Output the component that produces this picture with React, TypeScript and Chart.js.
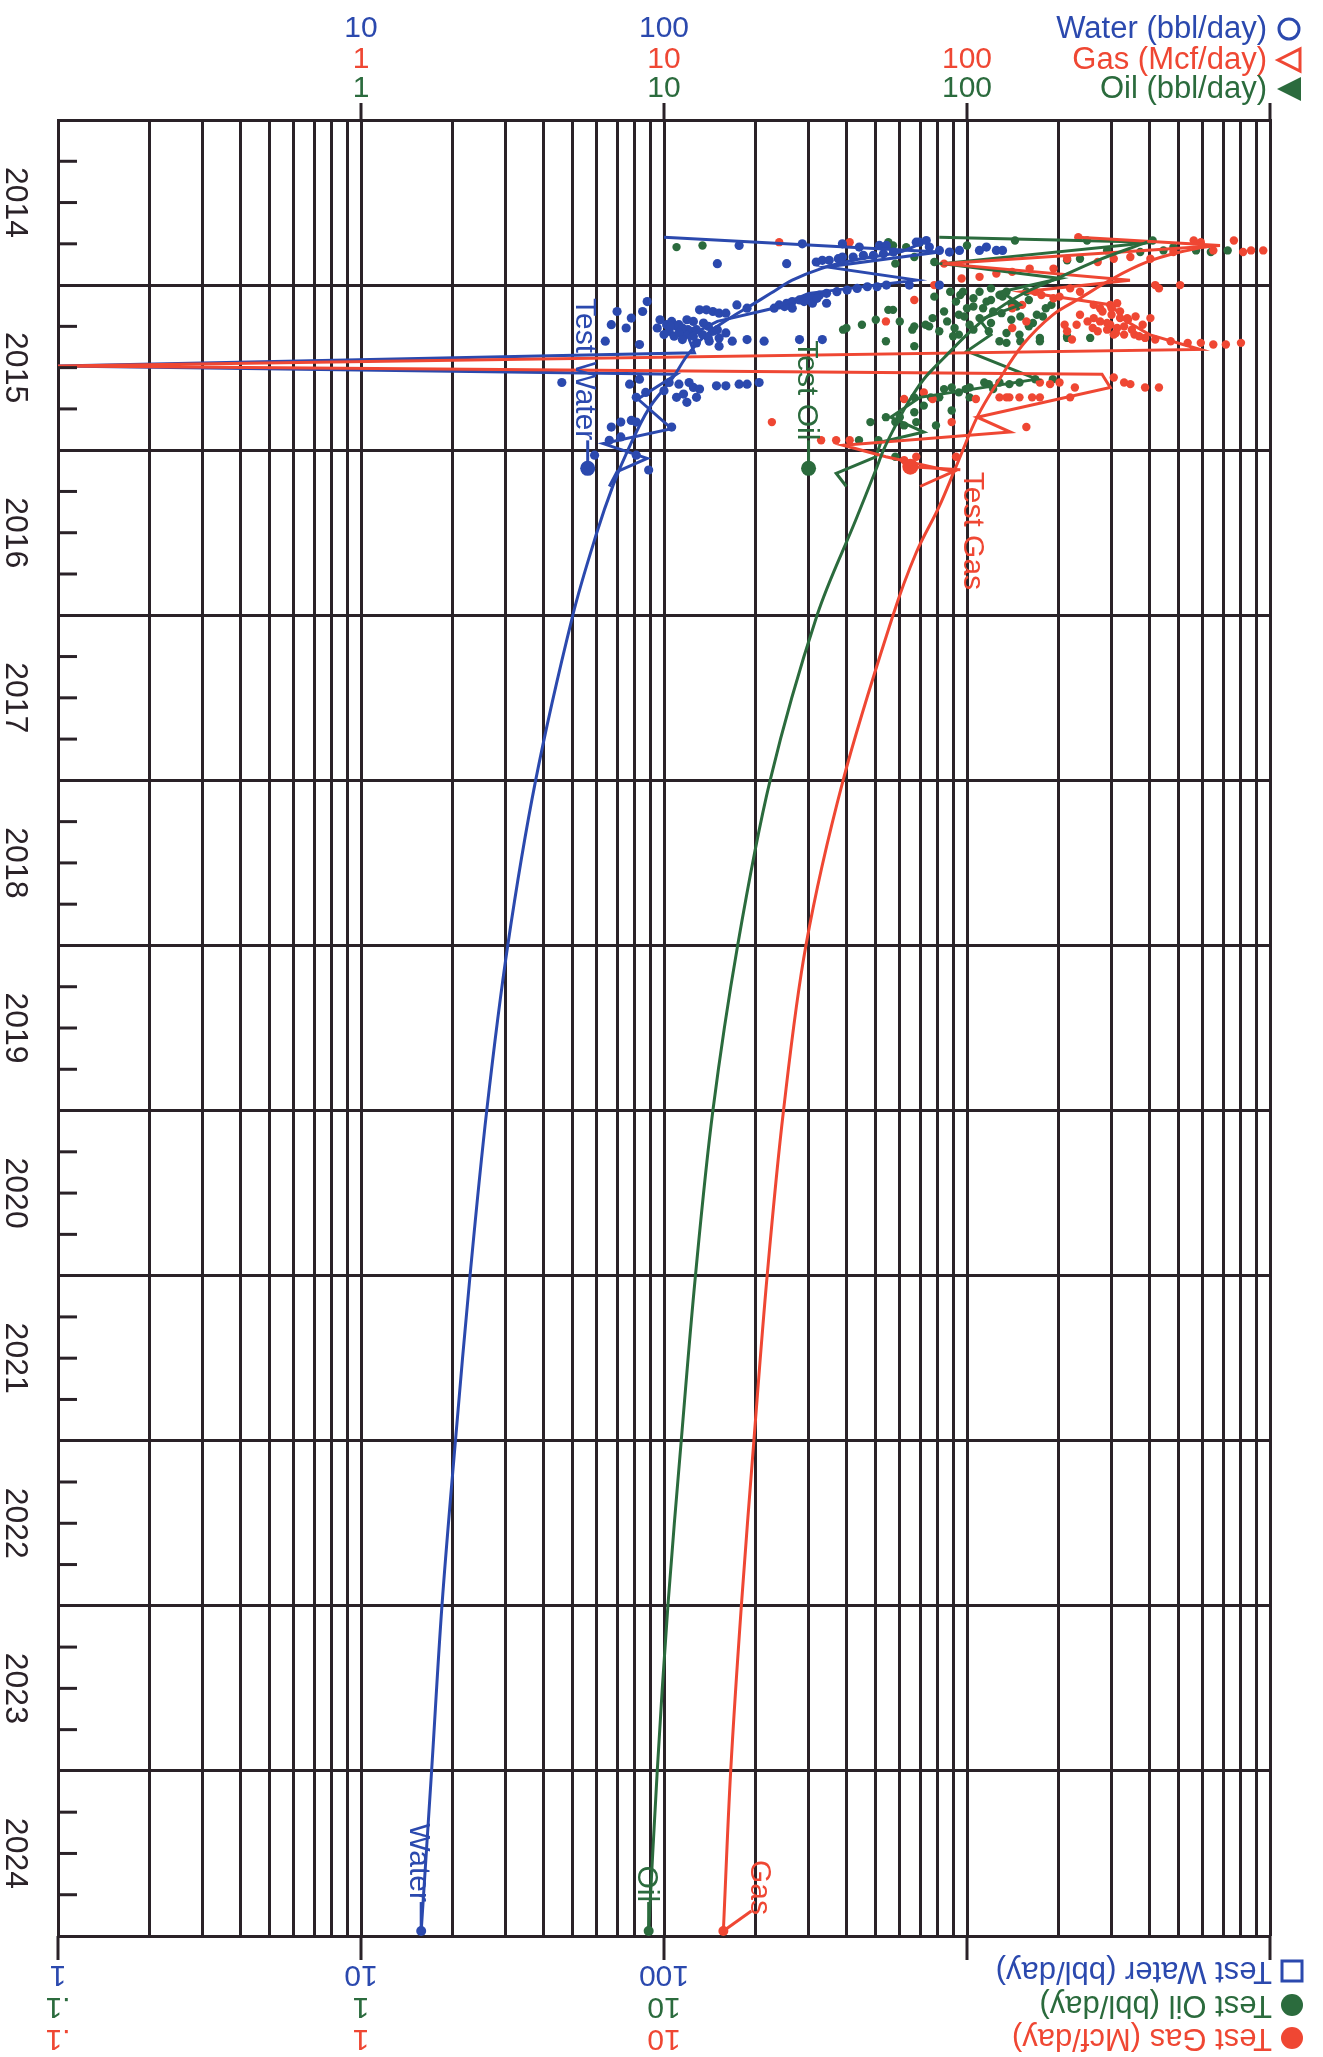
import React, { useEffect, useRef } from 'react';
import { Chart, registerables } from 'chart.js';

Chart.register(...registerables);

const BLUE = '#2b49ae';
const RED = '#ef4733';
const GREEN = '#2b6b3d';
const INK = '#2a2228';
const FONT = '"Liberation Sans", Arial, Helvetica, sans-serif';

// ---- axis definitions ----
const yearLines = [2014, 2015, 2016, 2017, 2018, 2019, 2020, 2021, 2022, 2023, 2024, 2025];
const yearLabels = [2014, 2015, 2016, 2017, 2018, 2019, 2020, 2021, 2022, 2023, 2024];
const decades = [1, 10, 100, 1000];
const gridSteps = [1, 2, 3, 4, 5, 6, 7, 8, 9];
const logGridValues = [...decades.flatMap((d) => gridSteps.map((s) => s * d)), 10000];
const topWaterTicks = [10, 100];
const topGasTicks = [1, 10, 100];
const topOilTicks = [1, 10, 100];
const bottomWaterTicks = [1, 10, 100];
const bottomOilTicks = [0.1, 1, 10];
const bottomGasTicks = [0.1, 1, 10];

// ---- data: [decimal year, value] ----
const waterDots = [
  [2014.76, 177], [2014.75, 286], [2014.75, 388], [2014.77, 441], [2014.76, 514], [2014.87, 150], [2014.87, 254],
  [2014.86, 318], [2014.85, 333], [2014.85, 351], [2014.84, 376], [2014.83, 388], [2014.83, 421], [2014.82, 455],
  [2014.82, 491], [2014.81, 530], [2014.80, 572], [2014.74, 696], [2014.77, 751], [2014.79, 811], [2014.76, 542],
  [2014.74, 680], [2014.73, 734], [2014.80, 875], [2014.79, 944], [2014.79, 1099], [2014.77, 1159], [2014.79, 1250],
  [2014.79, 1310], [2015.00, 645], [2015.00, 811],
  [2015.14, 231], [2015.12, 240], [2015.11, 254], [2015.10, 265], [2015.09, 280], [2015.08, 295], [2015.07, 309],
  [2015.06, 326], [2015.05, 344], [2015.04, 372], [2015.03, 402], [2015.02, 434], [2015.01, 469], [2015.01, 505],
  [2015.00, 542], [2015.14, 265], [2015.11, 309], [2015.11, 344], [2015.13, 250], [2015.10, 290], [2015.08, 320],
  [2015.16, 70], [2015.10, 88], [2015.16, 85], [2015.26, 75], [2015.24, 67], [2015.34, 64], [2015.20, 78],
  [2015.21, 97], [2015.24, 102], [2015.22, 106], [2015.24, 112], [2015.21, 119], [2015.22, 125], [2015.15, 131],
  [2015.15, 138], [2015.16, 145], [2015.17, 152], [2015.17, 160], [2015.12, 174], [2015.14, 188], [2015.28, 104],
  [2015.28, 115], [2015.28, 125], [2015.30, 134], [2015.28, 145], [2015.32, 152], [2015.35, 128], [2015.34, 141],
  [2015.37, 152], [2015.34, 168], [2015.33, 188], [2015.34, 214], [2015.33, 280], [2015.33, 333], [2015.36, 83],
  [2015.26, 95], [2015.25, 110], [2015.27, 120], [2015.31, 108], [2015.30, 118],
  [2015.25, 105], [2015.26, 115], [2015.27, 128], [2015.29, 112], [2015.31, 125], [2015.23, 135], [2015.25, 140],
  [2015.27, 150], [2015.32, 140], [2015.29, 160], [2015.30, 100], [2015.33, 115],
  [2015.60, 77], [2015.57, 83], [2015.65, 87], [2015.59, 104], [2015.60, 112], [2015.59, 121], [2015.62, 125],
  [2015.63, 131], [2015.68, 110], [2015.71, 119], [2015.68, 128], [2015.68, 81], [2015.61, 149], [2015.61, 160],
  [2015.60, 177], [2015.60, 188], [2015.59, 206], [2015.59, 46], [2015.64, 100], [2015.66, 116],
  [2015.86, 67], [2015.83, 72], [2015.83, 81], [2015.86, 106], [2015.94, 66], [2016.03, 59], [2016.12, 89],
  [2015.92, 72], [2016.03, 81], [2015.82, 78],
];

const oilDots = [
  [2014.77, 11.0], [2014.76, 13.4], [2014.74, 55], [2014.87, 58], [2014.83, 67], [2014.86, 78], [2014.76, 57],
  [2014.77, 63], [2014.74, 70], [2014.76, 100], [2014.73, 144], [2014.73, 249], [2014.79, 290], [2014.80, 373],
  [2014.73, 410], [2014.80, 638], [2014.79, 725], [2014.77, 480], [2014.79, 570], [2014.79, 445], [2014.84, 236],
  [2014.85, 214],
  [2015.15, 55], [2015.24, 45], [2015.27, 39], [2015.34, 54], [2015.21, 50], [2015.26, 40], [2015.22, 60],
  [2015.25, 67], [2015.25, 75], [2015.37, 67], [2015.15, 57],
  [2015.27, 66], [2015.24, 73], [2015.07, 78], [2015.16, 84], [2015.22, 86], [2015.26, 91], [2015.18, 94],
  [2015.14, 100], [2015.08, 105], [2015.04, 110], [2015.10, 116], [2015.16, 122], [2015.06, 128], [2015.04, 135],
  [2015.20, 110], [2015.28, 118], [2015.34, 128], [2015.35, 135], [2015.30, 149], [2015.04, 157], [2015.18, 170],
  [2015.34, 174], [2015.14, 182], [2015.30, 94], [2015.24, 102], [2015.10, 92], [2015.14, 113], [2015.04, 97],
  [2015.04, 88], [2015.28, 81], [2015.20, 77], [2015.32, 214], [2015.32, 255],
  [2015.07, 131], [2015.13, 146], [2015.19, 150], [2015.23, 165], [2015.19, 178], [2015.31, 214], [2015.34, 150],
  [2015.32, 174],
  [2015.06, 95], [2015.09, 120], [2015.11, 140], [2015.13, 105], [2015.17, 130], [2015.19, 98], [2015.21, 140],
  [2015.23, 120], [2015.25, 160], [2015.27, 105], [2015.29, 135], [2015.31, 90], [2015.09, 160], [2015.12, 190],
  [2015.02, 120],
  [2015.68, 76], [2015.68, 81], [2015.65, 94], [2015.62, 102], [2015.60, 118], [2015.59, 128], [2015.60, 138],
  [2015.59, 149], [2015.57, 168], [2015.57, 192], [2015.73, 72], [2015.77, 67], [2015.80, 60], [2015.85, 79],
  [2015.85, 62], [2015.80, 54], [2015.83, 48], [2015.83, 58], [2015.76, 89], [2015.68, 102], [2015.59, 114],
  [2015.63, 122], [2015.68, 67], [2015.63, 84], [2015.94, 44], [2015.94, 51], [2016.04, 58], [2015.83, 68],
  [2015.62, 89], [2015.63, 99],
];

const gasDots = [
  [2014.74, 24], [2014.74, 41], [2014.87, 84], [2015.00, 78], [2015.09, 67], [2014.71, 233], [2014.73, 560],
  [2014.74, 591], [2014.73, 760], [2014.79, 866], [2014.79, 950], [2014.80, 815], [2014.79, 650], [2014.80, 480],
  [2014.84, 403], [2014.83, 346], [2014.84, 305], [2014.86, 270], [2014.84, 214], [2014.90, 193], [2014.90, 161],
  [2014.92, 141], [2014.93, 125], [2014.95, 110], [2014.96, 96], [2015.00, 81], [2015.00, 418], [2015.00, 505],
  [2015.02, 430],
  [2015.04, 168], [2015.06, 176], [2015.08, 193], [2015.07, 202], [2015.02, 219], [2015.04, 236], [2015.12, 262],
  [2015.14, 275], [2015.12, 297], [2015.11, 313], [2015.18, 236], [2015.22, 250], [2015.20, 262], [2015.22, 275],
  [2015.24, 297], [2015.26, 313], [2015.20, 338], [2015.28, 270], [2015.30, 305], [2015.30, 330], [2015.30, 357],
  [2015.32, 387], [2015.33, 418], [2015.34, 470], [2015.35, 535], [2015.35, 591], [2015.36, 650], [2015.36, 715],
  [2015.35, 802], [2015.28, 214], [2015.33, 222], [2015.24, 230], [2015.24, 210], [2015.20, 403], [2015.22, 157],
  [2015.26, 141], [2015.14, 141], [2015.12, 152], [2015.22, 54], [2015.21, 340], [2015.27, 290], [2015.16, 320],
  [2015.16, 280], [2015.18, 300], [2015.20, 320], [2015.23, 290], [2015.25, 330], [2015.27, 350], [2015.29, 310],
  [2015.31, 370], [2015.19, 360], [2015.24, 380], [2015.14, 300], [2015.26, 260],
  [2015.56, 305], [2015.59, 330], [2015.60, 346], [2015.62, 387], [2015.62, 430], [2015.59, 202], [2015.62, 227],
  [2015.59, 174], [2015.60, 188], [2015.68, 128], [2015.68, 138], [2015.68, 149], [2015.68, 164], [2015.68, 219],
  [2015.69, 107], [2015.86, 157], [2015.83, 89], [2015.69, 62], [2015.65, 72], [2015.69, 77], [2015.68, 135],
  [2015.68, 174], [2015.83, 22.7], [2015.94, 33], [2015.94, 37], [2015.94, 41], [2016.06, 62], [2016.04, 68],
  [2016.04, 92],
];

const waterMonthly = [
  [2014.71, 100], [2014.80, 811], [2014.89, 344], [2014.97, 680], [2015.05, 300], [2015.14, 230], [2015.22, 150],
  [2015.31, 120], [2015.41, 126], [2015.49, 1], [2015.54, 110], [2015.69, 82], [2015.87, 106], [2015.96, 63],
  [2016.05, 88], [2016.13, 70], [2016.22, 66],
];
const oilMonthly = [
  [2014.71, 81], [2014.74, 411], [2014.87, 83], [2014.96, 203], [2015.04, 130], [2015.12, 150], [2015.21, 110],
  [2015.30, 120], [2015.40, 100], [2015.57, 170], [2015.68, 70], [2015.80, 56], [2015.89, 72], [2015.95, 52],
  [2016.04, 50], [2016.14, 37], [2016.22, 40],
];
const gasMonthly = [
  [2014.71, 233], [2014.76, 684], [2014.87, 83], [2014.97, 345], [2015.04, 153], [2015.12, 300], [2015.21, 330],
  [2015.30, 400], [2015.39, 588], [2015.49, 0.1], [2015.54, 279], [2015.62, 297], [2015.80, 108], [2015.89, 139],
  [2015.97, 39], [2016.04, 54], [2016.13, 90], [2016.22, 70],
];

const waterForecast = [
  [2014.75, 700], [2014.80, 600], [2014.85, 420], [2014.90, 330], [2014.97, 265], [2015.05, 225], [2015.12, 195],
  [2015.20, 165], [2015.30, 138], [2015.42, 120], [2015.56, 107], [2015.75, 89], [2016.0, 76], [2016.21, 68],
  [2016.5, 60], [2017.0, 50], [2018.0, 37.7], [2019.0, 30.5], [2020.0, 26.0], [2021.0, 22.9], [2022.0, 20.5],
  [2023.0, 18.5], [2024.0, 17.1], [2024.97, 15.8],
];
const oilForecast = [
  [2014.74, 393], [2014.85, 270], [2014.96, 198], [2015.06, 150], [2015.18, 119], [2015.30, 100], [2015.44, 84],
  [2015.57, 72], [2015.71, 64], [2015.88, 57], [2016.0, 53], [2016.12, 50], [2016.42, 43], [2017.0, 32],
  [2018.0, 22.4], [2019.0, 17.5], [2020.0, 14.5], [2021.0, 12.7], [2022.0, 11.4], [2023.0, 10.3], [2024.0, 9.5],
  [2024.97, 8.9],
];
const gasForecast = [
  [2014.76, 649], [2014.80, 505], [2014.86, 393], [2014.96, 303], [2015.08, 236], [2015.18, 192], [2015.36, 153],
  [2015.59, 126], [2015.80, 108], [2016.10, 92], [2016.34, 81], [2016.62, 68], [2017.0, 57], [2018.0, 39],
  [2019.0, 29.4], [2020.0, 24.8], [2021.0, 21.9], [2022.0, 19.8], [2023.0, 18.0], [2024.0, 16.6], [2024.97, 15.7],
];

const testWater = [[2016.11, 56]];
const testOil = [[2016.11, 30]];
const testGas = [[2016.10, 65]];

const pts = (arr: number[][]) => arr.map(([t, v]) => ({ x: v, y: t }));
const fmt = (v: number) => (v < 1 ? String(v).replace(/^0/, '') : String(v));

function seg(ctx: CanvasRenderingContext2D, x1: number, y1: number, x2: number, y2: number) {
  ctx.beginPath();
  ctx.moveTo(x1, y1);
  ctx.lineTo(x2, y2);
  ctx.stroke();
}
function rotText(ctx: CanvasRenderingContext2D, text: string, x: number, y: number, angle: number, align: CanvasTextAlign) {
  ctx.save();
  ctx.translate(x, y);
  ctx.rotate(angle);
  ctx.textAlign = align;
  ctx.textBaseline = 'middle';
  ctx.fillText(text, 0, 0);
  ctx.restore();
}

const overlay = {
  id: 'overlay',
  afterDatasetsDraw(chart: any) {
    const ctx: CanvasRenderingContext2D = chart.ctx;
    const xw = chart.scales.x;
    const xo = chart.scales.x2;
    const y = chart.scales.y;
    ctx.save();
    ctx.lineWidth = 3;
    ctx.font = `30px ${FONT}`;
    // Test labels
    const tw = testWater[0];
    const twx = xw.getPixelForValue(tw[1]);
    const twy = y.getPixelForValue(tw[0]);
    ctx.strokeStyle = BLUE;
    ctx.fillStyle = BLUE;
    seg(ctx, twx, twy - 28, twx, twy);
    rotText(ctx, 'Test Water', twx - 3, twy - 28, Math.PI / 2, 'right');

    const to = testOil[0];
    const tox = xo.getPixelForValue(to[1]);
    const toy = y.getPixelForValue(to[0]);
    ctx.strokeStyle = GREEN;
    ctx.fillStyle = GREEN;
    seg(ctx, tox, toy - 28, tox, toy);
    rotText(ctx, 'Test Oil', tox - 2, toy - 28, Math.PI / 2, 'right');

    const tg = testGas[0];
    const tgx = xo.getPixelForValue(tg[1]);
    const tgy = y.getPixelForValue(tg[0]);
    ctx.strokeStyle = RED;
    ctx.fillStyle = RED;
    seg(ctx, tgx, tgy, tgx + 50, tgy + 3);
    rotText(ctx, 'Test Gas', tgx + 62, tgy + 5, Math.PI / 2, 'left');

    // forecast end labels
    const we = waterForecast[waterForecast.length - 1];
    const wex = xw.getPixelForValue(we[1]);
    const wey = y.getPixelForValue(we[0]);
    ctx.strokeStyle = BLUE;
    ctx.fillStyle = BLUE;
    seg(ctx, wex, wey - 29, wex, wey);
    ctx.beginPath();
    ctx.arc(wex, wey, 5, 0, Math.PI * 2);
    ctx.fill();
    rotText(ctx, 'Water', wex - 3, wey - 29, Math.PI / 2, 'right');

    const oe = oilForecast[oilForecast.length - 1];
    const oex = xo.getPixelForValue(oe[1]);
    const oey = y.getPixelForValue(oe[0]);
    ctx.strokeStyle = GREEN;
    ctx.fillStyle = GREEN;
    seg(ctx, oex, oey - 29, oex, oey);
    ctx.beginPath();
    ctx.arc(oex, oey, 5, 0, Math.PI * 2);
    ctx.fill();
    rotText(ctx, 'Oil', oex - 2, oey - 29, Math.PI / 2, 'right');

    const ge = gasForecast[gasForecast.length - 1];
    const gex = xo.getPixelForValue(ge[1]);
    const gey = y.getPixelForValue(ge[0]);
    ctx.strokeStyle = RED;
    ctx.fillStyle = RED;
    seg(ctx, gex, gey, gex + 28, gey - 20);
    ctx.beginPath();
    ctx.arc(gex, gey, 5, 0, Math.PI * 2);
    ctx.fill();
    rotText(ctx, 'Gas', gex + 36, gey - 16, Math.PI / 2, 'right');
    ctx.restore();
  },
  afterDraw(chart: any) {
    const ctx: CanvasRenderingContext2D = chart.ctx;
    const xw = chart.scales.x;
    const xo = chart.scales.x2;
    const y = chart.scales.y;
    const { left, right, top, bottom } = chart.chartArea;
    ctx.save();
    ctx.strokeStyle = INK;
    ctx.lineWidth = 3;
    // quarter ticks on left edge
    yearLabels.forEach((yr) => {
      [0.25, 0.5, 0.75].forEach((q) => {
        const py = y.getPixelForValue(yr + q);
        seg(ctx, left, py, left + 19, py);
      });
    });
    // decade ticks outside
    [10, 100, 1000, 10000].forEach((v) => {
      const px = xw.getPixelForValue(v);
      seg(ctx, px, top - 17, px, top);
    });
    [1, 10, 100, 1000, 10000].forEach((v) => {
      const px = xw.getPixelForValue(v);
      seg(ctx, px, bottom, px, bottom + 24);
    });
    // year labels
    ctx.fillStyle = INK;
    ctx.font = `32px ${FONT}`;
    yearLabels.forEach((yr) => {
      rotText(ctx, String(yr), 15, y.getPixelForValue(yr + 0.5), Math.PI / 2, 'center');
    });
    // top tick labels
    ctx.font = `30px ${FONT}`;
    ctx.textAlign = 'center';
    ctx.textBaseline = 'middle';
    ctx.fillStyle = BLUE;
    topWaterTicks.forEach((v) => ctx.fillText(fmt(v), xw.getPixelForValue(v), 29));
    ctx.fillStyle = RED;
    topGasTicks.forEach((v) => ctx.fillText(fmt(v), xo.getPixelForValue(v), 60));
    ctx.fillStyle = GREEN;
    topOilTicks.forEach((v) => ctx.fillText(fmt(v), xo.getPixelForValue(v), 89));
    // bottom tick labels (upside down)
    ctx.fillStyle = BLUE;
    bottomWaterTicks.forEach((v) => rotText(ctx, fmt(v), xw.getPixelForValue(v), 1974, Math.PI, 'center'));
    ctx.fillStyle = GREEN;
    bottomOilTicks.forEach((v) => rotText(ctx, fmt(v), xo.getPixelForValue(v), 2006, Math.PI, 'center'));
    ctx.fillStyle = RED;
    bottomGasTicks.forEach((v) => rotText(ctx, fmt(v), xo.getPixelForValue(v), 2038, Math.PI, 'center'));

    // top-right legend
    ctx.font = `31px ${FONT}`;
    ctx.textAlign = 'right';
    ctx.textBaseline = 'middle';
    const lx = right - 3;
    const sx = right + 19;
    ctx.fillStyle = BLUE;
    ctx.fillText('Water (bbl/day)', lx, 29);
    ctx.fillStyle = RED;
    ctx.fillText('Gas (Mcf/day)', lx, 60);
    ctx.fillStyle = GREEN;
    ctx.fillText('Oil (bbl/day)', lx, 89);
    ctx.lineWidth = 3;
    ctx.strokeStyle = BLUE;
    ctx.beginPath();
    ctx.arc(sx, 29, 10, 0, Math.PI * 2);
    ctx.stroke();
    ctx.strokeStyle = RED;
    ctx.beginPath();
    ctx.moveTo(sx - 11, 60);
    ctx.lineTo(sx + 11, 49);
    ctx.lineTo(sx + 11, 71);
    ctx.closePath();
    ctx.stroke();
    ctx.fillStyle = GREEN;
    ctx.beginPath();
    ctx.moveTo(sx - 12, 89);
    ctx.lineTo(sx + 12, 77);
    ctx.lineTo(sx + 12, 101);
    ctx.closePath();
    ctx.fill();

    // bottom-right legend (upside down)
    const bx = right + 2;
    const bs = right + 22;
    ctx.fillStyle = BLUE;
    rotText(ctx, 'Test Water (bbl/day)', bx, 1971, Math.PI, 'left');
    ctx.strokeStyle = BLUE;
    ctx.strokeRect(bs - 10, 1961, 20, 20);
    ctx.fillStyle = GREEN;
    rotText(ctx, 'Test Oil (bbl/day)', bx, 2005, Math.PI, 'left');
    ctx.beginPath();
    ctx.arc(bs, 2005, 11, 0, Math.PI * 2);
    ctx.fill();
    ctx.fillStyle = RED;
    rotText(ctx, 'Test Gas (Mcf/day)', bx, 2038, Math.PI, 'left');
    ctx.beginPath();
    ctx.arc(bs, 2038, 11, 0, Math.PI * 2);
    ctx.fill();
    ctx.restore();
  },
};

export default function App() {
  const ref = useRef<HTMLCanvasElement | null>(null);
  useEffect(() => {
    if (!ref.current) return;
    const dots = (data: number[][], axis: string, color: string, r: number, order: number) => ({
      data: pts(data),
      xAxisID: axis,
      yAxisID: 'y',
      showLine: false,
      pointRadius: r,
      pointBorderWidth: 0,
      backgroundColor: color,
      borderColor: color,
      order,
    });
    const line = (data: number[][], axis: string, color: string, tension: number, order: number) => ({
      data: pts(data),
      xAxisID: axis,
      yAxisID: 'y',
      showLine: true,
      pointRadius: 0,
      borderWidth: 3,
      borderColor: color,
      backgroundColor: color,
      tension,
      order,
    });
    const chart = new Chart(ref.current, {
      type: 'scatter',
      data: {
        datasets: [
          dots(testWater, 'x', BLUE, 7.5, 0),
          dots(testOil, 'x2', GREEN, 7.5, 0),
          dots(testGas, 'x2', RED, 8, 0),
          line(waterForecast, 'x', BLUE, 0.35, 1),
          line(oilForecast, 'x2', GREEN, 0.35, 1),
          line(gasForecast, 'x2', RED, 0.35, 1),
          line(gasMonthly, 'x2', RED, 0, 2),
          line(oilMonthly, 'x2', GREEN, 0, 2),
          line(waterMonthly, 'x', BLUE, 0, 3),
          dots(waterDots, 'x', BLUE, 4.6, 4),
          dots(gasDots, 'x2', RED, 4.2, 5),
          dots(oilDots, 'x2', GREEN, 4.2, 6),
        ] as any,
      },
      options: {
        animation: false,
        responsive: false,
        maintainAspectRatio: false,
        layout: { padding: { left: 58, top: 120, right: 53, bottom: 121 } },
        plugins: { legend: { display: false }, tooltip: { enabled: false } },
        scales: {
          x: {
            type: 'logarithmic',
            position: 'top',
            min: 1,
            max: 10000,
            afterBuildTicks: (s: any) => {
              s.ticks = logGridValues.map((v) => ({ value: v }));
            },
            afterFit: (s: any) => {
              s.height = 0;
            },
            ticks: { display: false },
            grid: { color: INK, lineWidth: 3, drawTicks: false, tickLength: 0 },
            border: { display: true, color: INK, width: 3 },
          },
          x2: {
            type: 'logarithmic',
            position: 'top',
            display: false,
            min: 0.1,
            max: 1000,
          },
          y: {
            type: 'linear',
            position: 'left',
            reverse: true,
            min: 2014,
            max: 2025,
            afterBuildTicks: (s: any) => {
              s.ticks = yearLines.map((v) => ({ value: v }));
            },
            afterFit: (s: any) => {
              s.width = 0;
            },
            ticks: { display: false },
            grid: { color: INK, lineWidth: 3, drawTicks: false, tickLength: 0 },
            border: { display: true, color: INK, width: 3 },
          },
        },
      } as any,
      plugins: [overlay],
    });
    return () => chart.destroy();
  }, []);
  return (
    <div style={{ position: 'absolute', left: 0, top: 0, width: 1323, height: 2057, background: '#fff' }}>
      <canvas ref={ref} width={1323} height={2057} style={{ display: 'block', width: 1323, height: 2057 }} />
    </div>
  );
}
